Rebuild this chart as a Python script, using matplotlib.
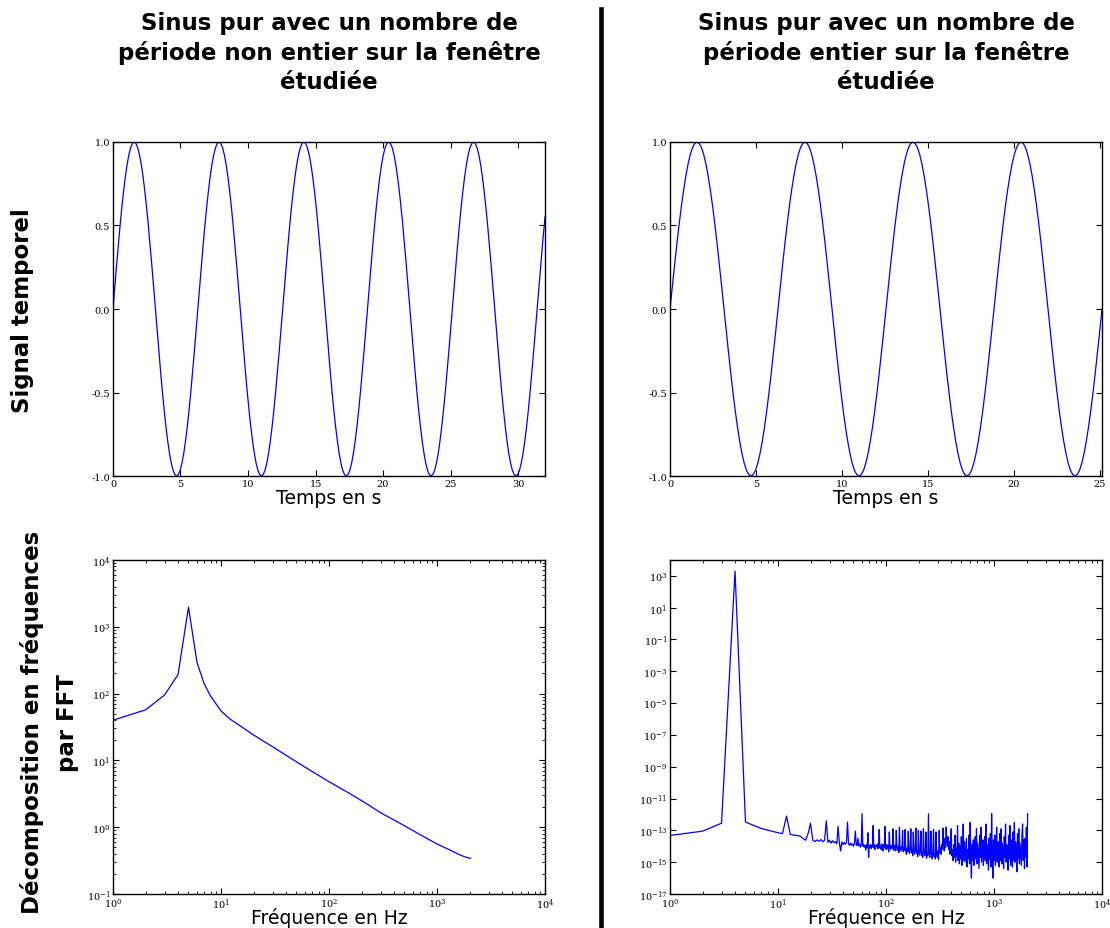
import numpy as np
import matplotlib
matplotlib.use("Agg")
import matplotlib.pyplot as plt
from matplotlib.lines import Line2D
from matplotlib.ticker import (
    LogLocator,
    NullLocator,
    FixedLocator,
    FormatStrFormatter,
    LogFormatterSciNotation
)

# ==========================================
# 1. TEXTES
# ==========================================

TITRE_GAUCHE = "Sinus pur avec un nombre de\npériode non entier sur la fenêtre\nétudiée"
TITRE_DROITE = "Sinus pur avec un nombre de\npériode entier sur la fenêtre\nétudiée"
LIGNE_HAUT = "Signal temporel"
LIGNE_BAS = "Décomposition en fréquences\npar FFT"
XLABEL_TEMPS = "Temps en s"
XLABEL_FREQ = "Fréquence en Hz"

# ==========================================
# 2. SIGNAUX TEMPORELS
# ==========================================

# echantillons tous les pi/24 s
PAS = np.pi / 24

signal_gauche = [
    0.0, 0.131, 0.259, 0.383, 0.5, 0.609, 0.707, 0.793, 0.866, 0.924, 0.966, 0.991,
    1.0, 0.991, 0.966, 0.924, 0.866, 0.793, 0.707, 0.609, 0.5, 0.383, 0.259, 0.131,
    0.0, -0.131, -0.259, -0.383, -0.5, -0.609, -0.707, -0.793, -0.866, -0.924, -0.966, -0.991,
    -1.0, -0.991, -0.966, -0.924, -0.866, -0.793, -0.707, -0.609, -0.5, -0.383, -0.259, -0.131,
    0.0, 0.131, 0.259, 0.383, 0.5, 0.609, 0.707, 0.793, 0.866, 0.924, 0.966, 0.991,
    1.0, 0.991, 0.966, 0.924, 0.866, 0.793, 0.707, 0.609, 0.5, 0.383, 0.259, 0.131,
    0.0, -0.131, -0.259, -0.383, -0.5, -0.609, -0.707, -0.793, -0.866, -0.924, -0.966, -0.991,
    -1.0, -0.991, -0.966, -0.924, -0.866, -0.793, -0.707, -0.609, -0.5, -0.383, -0.259, -0.131,
    0.0, 0.131, 0.259, 0.383, 0.5, 0.609, 0.707, 0.793, 0.866, 0.924, 0.966, 0.991,
    1.0, 0.991, 0.966, 0.924, 0.866, 0.793, 0.707, 0.609, 0.5, 0.383, 0.259, 0.131,
    0.0, -0.131, -0.259, -0.383, -0.5, -0.609, -0.707, -0.793, -0.866, -0.924, -0.966, -0.991,
    -1.0, -0.991, -0.966, -0.924, -0.866, -0.793, -0.707, -0.609, -0.5, -0.383, -0.259, -0.131,
    0.0, 0.131, 0.259, 0.383, 0.5, 0.609, 0.707, 0.793, 0.866, 0.924, 0.966, 0.991,
    1.0, 0.991, 0.966, 0.924, 0.866, 0.793, 0.707, 0.609, 0.5, 0.383, 0.259, 0.131,
    0.0, -0.131, -0.259, -0.383, -0.5, -0.609, -0.707, -0.793, -0.866, -0.924, -0.966, -0.991,
    -1.0, -0.991, -0.966, -0.924, -0.866, -0.793, -0.707, -0.609, -0.5, -0.383, -0.259, -0.131,
    0.0, 0.131, 0.259, 0.383, 0.5, 0.609, 0.707, 0.793, 0.866, 0.924, 0.966, 0.991,
    1.0, 0.991, 0.966, 0.924, 0.866, 0.793, 0.707, 0.609, 0.5, 0.383, 0.259, 0.131,
    0.0, -0.131, -0.259, -0.383, -0.5, -0.609, -0.707, -0.793, -0.866, -0.924, -0.966, -0.991,
    -1.0, -0.991, -0.966, -0.924, -0.866, -0.793, -0.707, -0.609, -0.5, -0.383, -0.259, -0.131,
    0.0, 0.131, 0.259, 0.383, 0.5, 0.551,
]
temps_gauche = np.append(np.arange(245) * PAS, 32.0)

signal_droite = [
    0.0, 0.131, 0.259, 0.383, 0.5, 0.609, 0.707, 0.793, 0.866, 0.924, 0.966, 0.991,
    1.0, 0.991, 0.966, 0.924, 0.866, 0.793, 0.707, 0.609, 0.5, 0.383, 0.259, 0.131,
    0.0, -0.131, -0.259, -0.383, -0.5, -0.609, -0.707, -0.793, -0.866, -0.924, -0.966, -0.991,
    -1.0, -0.991, -0.966, -0.924, -0.866, -0.793, -0.707, -0.609, -0.5, -0.383, -0.259, -0.131,
    0.0, 0.131, 0.259, 0.383, 0.5, 0.609, 0.707, 0.793, 0.866, 0.924, 0.966, 0.991,
    1.0, 0.991, 0.966, 0.924, 0.866, 0.793, 0.707, 0.609, 0.5, 0.383, 0.259, 0.131,
    0.0, -0.131, -0.259, -0.383, -0.5, -0.609, -0.707, -0.793, -0.866, -0.924, -0.966, -0.991,
    -1.0, -0.991, -0.966, -0.924, -0.866, -0.793, -0.707, -0.609, -0.5, -0.383, -0.259, -0.131,
    0.0, 0.131, 0.259, 0.383, 0.5, 0.609, 0.707, 0.793, 0.866, 0.924, 0.966, 0.991,
    1.0, 0.991, 0.966, 0.924, 0.866, 0.793, 0.707, 0.609, 0.5, 0.383, 0.259, 0.131,
    0.0, -0.131, -0.259, -0.383, -0.5, -0.609, -0.707, -0.793, -0.866, -0.924, -0.966, -0.991,
    -1.0, -0.991, -0.966, -0.924, -0.866, -0.793, -0.707, -0.609, -0.5, -0.383, -0.259, -0.131,
    0.0, 0.131, 0.259, 0.383, 0.5, 0.609, 0.707, 0.793, 0.866, 0.924, 0.966, 0.991,
    1.0, 0.991, 0.966, 0.924, 0.866, 0.793, 0.707, 0.609, 0.5, 0.383, 0.259, 0.131,
    0.0, -0.131, -0.259, -0.383, -0.5, -0.609, -0.707, -0.793, -0.866, -0.924, -0.966, -0.991,
    -1.0, -0.991, -0.966, -0.924, -0.866, -0.793, -0.707, -0.609, -0.5, -0.383, -0.259, -0.131,
    0.0,
]
temps_droite = np.arange(193) * PAS

# ==========================================
# 3. SPECTRES FFT
# ==========================================

freq_gauche = [1, 2, 3, 4, 5, 6, 7, 8, 9, 10, 12, 15, 20, 30, 50, 70,
               100, 150, 200, 300, 500, 700, 1000, 1300, 1600, 1850, 2048]
fft_gauche = [40, 57, 95, 192, 1960, 290, 139, 92, 70, 55, 42, 33, 24, 16, 9.5, 6.8,
              4.8, 3.3, 2.5, 1.65, 1.05, 0.77, 0.56, 0.46, 0.39, 0.355, 0.343]

# bins 1 a 81 (exposants log10)
fft_droite_bas_log10 = [
    -13.32, -13.05, -12.55, 3.30, -12.48, -12.70, -12.88, -12.98, -13.07, -13.15,
    -13.20, -12.10, -13.25, -13.30, -13.32, -13.36, -13.50, -13.62, -13.20, -12.55,
    -13.62, -13.70, -13.60, -13.68, -13.58, -13.72, -13.62, -12.40, -13.75, -13.62,
    -13.80, -13.65, -13.78, -13.70, -13.85, -12.75, -13.80, -14.30, -13.72, -13.90,
    -13.75, -13.88, -13.78, -12.48, -13.85, -13.95, -13.80, -13.92, -13.85, -14.00,
    -13.82, -13.05, -13.90, -13.95, -13.50, -13.98, -13.85, -14.05, -13.90, -11.95,
    -14.00, -13.88, -14.05, -13.95, -14.25, -13.90, -14.10, -13.15, -14.70, -13.95,
    -14.05, -13.90, -14.15, -13.95, -14.05, -12.70, -14.10, -13.90, -14.20, -13.95,
    -14.05,
]
freq_droite_bas = np.arange(1, 82)

# bruit de 82 a 2048 Hz (exposants log10)
fft_droite_haut_log10 = [
    -14.0, -13.85, -14.15, -13.9, -12.95, -14.1, -13.95, -14.2, -13.85, -14.05, -14.3, -13.9,
    -14.1, -12.75, -14.0, -14.2, -13.9, -14.15, -13.95, -14.35, -13.1, -14.05, -14.2, -13.95,
    -14.15, -14.0, -12.9, -14.25, -13.95, -14.1, -14.3, -13.0, -14.05, -14.25, -14.0, -14.4,
    -12.8, -14.15, -14.3, -14.05, -14.2, -13.0, -14.35, -14.1, -14.25, -12.95, -14.3, -14.5,
    -14.1, -14.35, -13.05, -14.2, -14.45, -14.15, -12.9, -14.4, -14.25, -14.6, -13.1, -14.3,
    -14.5, -14.2, -12.85, -14.45, -14.3, -14.65, -13.0, -14.35, -14.55, -14.25, -13.05, -14.6,
    -14.4, -14.7, -12.9, -14.3, -14.6, -14.45, -13.1, -14.75, -14.4, -14.55, -11.95, -14.5,
    -14.7, -14.35, -13.05, -14.6, -14.8, -14.4, -12.95, -14.65, -14.5, -14.8, -13.1, -14.45,
    -14.7, -14.3, -14.85, -13.0, -14.4, -14.1, -14.5, -13.9, -14.2, -12.85, -13.8, -14.3,
    -13.5, -14.1, -12.8, -13.6, -14.0, -13.4, -14.2, -13.7, -14.5, -13.9, -12.9, -14.6,
    -14.2, -14.9, -13.9, -14.7, -13.3, -15.0, -14.1, -14.6, -12.7, -14.9, -13.8, -15.1,
    -14.0, -14.8, -13.4, -15.2, -14.1, -12.6, -14.9, -13.7, -15.0, -14.3, -13.5, -15.3,
    -14.2, -14.8, -13.3, -15.1, -12.5, -14.6, -16.0, -13.9, -14.9, -13.6, -15.2, -14.1,
    -13.4, -14.8, -12.9, -15.1, -13.8, -14.6, -15.4, -13.3, -14.7, -12.8, -15.0, -14.2,
    -13.6, -15.2, -14.0, -13.4, -14.9, -12.6, -15.1, -13.9, -14.5, -15.5, -13.5, -14.8,
    -13.2, -15.3, -11.95, -14.7, -16.0, -13.6, -14.9, -13.3, -15.2, -14.1, -12.8, -15.0,
    -13.7, -14.6, -15.3, -13.2, -14.9, -12.9, -15.1, -13.8, -14.4, -15.4, -13.4, -14.7,
    -12.6, -15.0, -13.9, -14.5, -15.5, -13.3, -14.8, -12.7, -15.2, -13.6, -14.6, -15.3,
    -13.1, -14.9, -12.5, -15.0, -13.7, -14.4, -15.6, -13.2, -14.8, -12.9, -15.1, -13.8,
    -14.5, -15.2, -13.3, -12.6, -14.9, -13.6, -15.4, -13.5, -14.7, -12.8, -15.3, -11.95,
]
freq_droite_haut = np.geomspace(82, 2048, len(fft_droite_haut_log10))

freq_droite = np.concatenate([freq_droite_bas, freq_droite_haut])
fft_droite = 10.0 ** np.concatenate([fft_droite_bas_log10, fft_droite_haut_log10])

# ==========================================
# 4. STYLE
# ==========================================

plt.rcParams["font.family"] = "DejaVu Serif"
plt.rcParams["mathtext.fontset"] = "dejavuserif"
plt.rcParams["xtick.direction"] = "in"
plt.rcParams["ytick.direction"] = "in"
plt.rcParams["xtick.top"] = True
plt.rcParams["ytick.right"] = True
plt.rcParams["xtick.labelsize"] = 7
plt.rcParams["ytick.labelsize"] = 7
plt.rcParams["xtick.major.size"] = 4
plt.rcParams["ytick.major.size"] = 4
plt.rcParams["xtick.minor.size"] = 2
plt.rcParams["ytick.minor.size"] = 2
plt.rcParams["xtick.major.pad"] = 2
plt.rcParams["ytick.major.pad"] = 2
plt.rcParams["axes.linewidth"] = 1.0

SANS = "DejaVu Sans"
COULEUR = "b"
TAILLE_TITRE = 16.5
TAILLE_LABEL = 13.5

# ==========================================
# 5. FIGURE
# ==========================================

fig = plt.figure(figsize=(11.1, 9.29), dpi=100)

ax_tg = fig.add_axes([0.1018, 0.4865, 0.3892, 0.3596])
ax_td = fig.add_axes([0.6036, 0.4865, 0.3892, 0.3596])
ax_fg = fig.add_axes([0.1018, 0.0366, 0.3892, 0.3596])
ax_fd = fig.add_axes([0.6036, 0.0366, 0.3892, 0.3596])

# signaux temporels
ax_tg.plot(temps_gauche, signal_gauche, color=COULEUR, lw=0.9)
ax_tg.set_xlim(0, 32)
ax_tg.set_ylim(-1, 1)
ax_tg.xaxis.set_major_locator(FixedLocator([0, 5, 10, 15, 20, 25, 30]))

ax_td.plot(temps_droite, signal_droite, color=COULEUR, lw=0.9)
ax_td.set_xlim(0, 8 * np.pi)
ax_td.set_ylim(-1, 1)
ax_td.xaxis.set_major_locator(FixedLocator([0, 5, 10, 15, 20, 25]))

for ax in (ax_tg, ax_td):
    ax.yaxis.set_major_locator(FixedLocator([-1.0, -0.5, 0.0, 0.5, 1.0]))
    ax.yaxis.set_major_formatter(FormatStrFormatter("%.1f"))
    ax.set_xlabel(XLABEL_TEMPS, family=SANS, fontsize=TAILLE_LABEL)
    ax.xaxis.set_label_coords(0.5, -0.036)

# spectres
ax_fg.loglog(freq_gauche, fft_gauche, color=COULEUR, lw=0.9)
ax_fg.set_xlim(1, 1e4)
ax_fg.set_ylim(1e-1, 1e4)
ax_fg.yaxis.set_major_locator(LogLocator(base=10, numticks=10))
ax_fg.yaxis.set_minor_locator(LogLocator(base=10, subs=np.arange(2, 10), numticks=20))

ax_fd.loglog(freq_droite, fft_droite, color=COULEUR, lw=0.9)
ax_fd.set_xlim(1, 1e4)
ax_fd.set_ylim(1e-17, 1e4)
ax_fd.yaxis.set_major_locator(FixedLocator([10.0 ** e for e in range(-17, 4, 2)]))
ax_fd.yaxis.set_minor_locator(NullLocator())

for ax in (ax_fg, ax_fd):
    ax.xaxis.set_major_locator(LogLocator(base=10, numticks=10))
    ax.xaxis.set_minor_locator(LogLocator(base=10, subs=np.arange(2, 10), numticks=20))
    ax.xaxis.set_major_formatter(LogFormatterSciNotation())
    ax.yaxis.set_major_formatter(LogFormatterSciNotation())
    ax.set_xlabel(XLABEL_FREQ, family=SANS, fontsize=TAILLE_LABEL)
    ax.xaxis.set_label_coords(0.5, -0.04)

# titres de colonnes
fig.text(0.2964, 0.943, TITRE_GAUCHE, family=SANS, weight="bold", fontsize=TAILLE_TITRE,
         ha="center", va="center", multialignment="center", linespacing=1.3)
fig.text(0.7982, 0.943, TITRE_DROITE, family=SANS, weight="bold", fontsize=TAILLE_TITRE,
         ha="center", va="center", multialignment="center", linespacing=1.3)

# titres de lignes
fig.text(0.020, 0.666, LIGNE_HAUT, family=SANS, weight="bold", fontsize=TAILLE_TITRE,
         rotation=90, ha="center", va="center")
fig.text(0.0446, 0.222, LIGNE_BAS, family=SANS, weight="bold", fontsize=TAILLE_TITRE,
         rotation=90, ha="center", va="center", multialignment="center", linespacing=1.7)

# trait vertical de separation
fig.add_artist(Line2D([0.541, 0.541], [0.0, 0.989], color="black", lw=3.3))

fig.savefig("out.png", dpi=100)
